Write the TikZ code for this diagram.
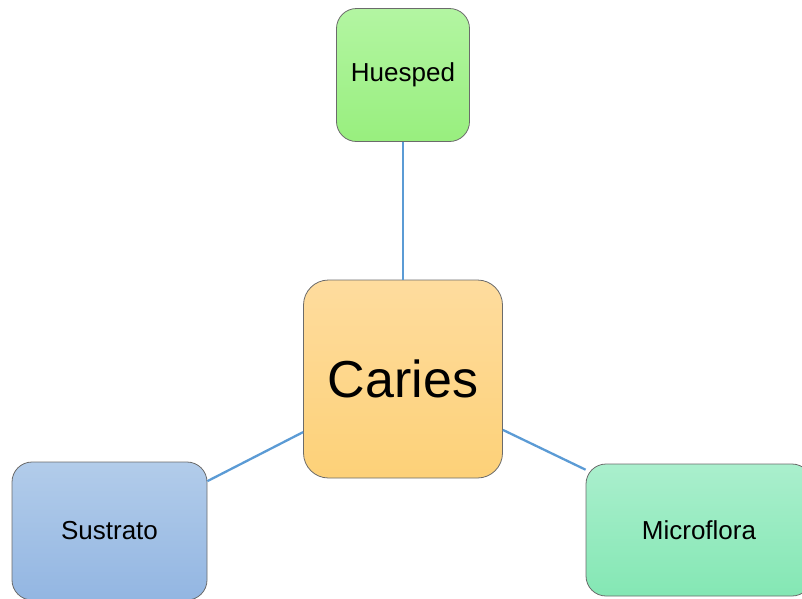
\documentclass[tikz,border=0pt]{standalone}
\usepackage{fontspec}
\setmainfont{Liberation Sans}
\usepackage{tikz}
\definecolor{cariesTop}{HTML}{FEDC9E}
\definecolor{cariesBottom}{HTML}{FDD178}
\definecolor{huespedTop}{HTML}{B3F5A2}
\definecolor{huespedBottom}{HTML}{98EF7E}
\definecolor{sustratoTop}{HTML}{B2CCEA}
\definecolor{sustratoBottom}{HTML}{93B6E2}
\definecolor{microfloraTop}{HTML}{AAEFCD}
\definecolor{microfloraBottom}{HTML}{84E7B4}
\colorlet{boxBorder}{black!58}
\definecolor{linkBlue}{HTML}{5B9BD5}

\begin{document}
\begin{tikzpicture}[
  x=1pt,
  y=-1pt,
  factor/.style={
    draw=boxBorder,
    line width=0.8pt,
    inner sep=0pt,
    rounded corners=20pt,
    font=\fontsize{26}{30}\selectfont,
  },
  caries box/.style={
    factor,
    rounded corners=25pt,
    top color=cariesTop,
    bottom color=cariesBottom,
    minimum width=199pt,
    minimum height=198pt,
    font=\fontsize{52}{60}\selectfont,
  },
  huesped box/.style={
    factor,
    top color=huespedTop,
    bottom color=huespedBottom,
    minimum width=133pt,
    minimum height=133pt,
  },
  sustrato box/.style={
    factor,
    top color=sustratoTop,
    bottom color=sustratoBottom,
    minimum width=195pt,
    minimum height=138pt,
  },
  microflora box/.style={
    factor,
    top color=microfloraTop,
    bottom color=microfloraBottom,
    minimum width=226pt,
    minimum height=132pt,
  },
  link/.style={
    draw=linkBlue,
    line width=2.3pt,
  },
]
\useasboundingbox (0,0) rectangle (802,598);

\node[caries box] (caries) at (403,379) {Caries};
\node[huesped box] (huesped) at (403,75) {Huesped};
\node[sustrato box] (sustrato) at (109.5,531) {Sustrato};
\node[microflora box] (microflora) at (699,530) {Microflora};

% links from the centre box
\draw[link] (caries.north) -- (huesped.south);
\draw[link] (caries.208) -- (sustrato.27);
\draw[link] (caries.-27) -- (microflora.152);
\end{tikzpicture}
\end{document}
